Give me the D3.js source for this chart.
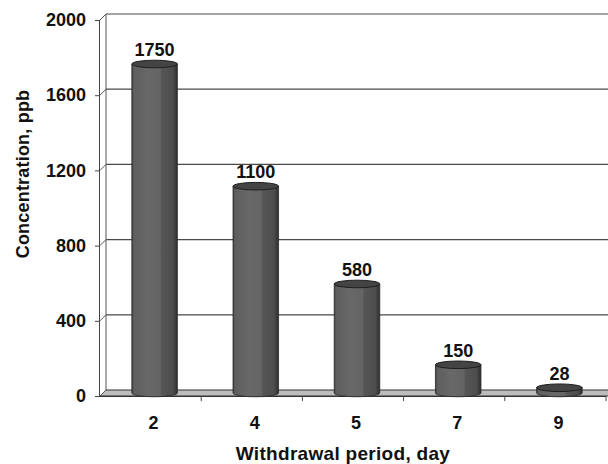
<!DOCTYPE html>
<html>
<head>
<meta charset="utf-8">
<script src="https://cdn.jsdelivr.net/npm/d3@7"></script>
<style>
  html, body { margin: 0; padding: 0; background: #fff; }
  svg { display: block; }
  text { font-family: "Liberation Sans", Arial, sans-serif; font-weight: bold; fill: #111; }
</style>
</head>
<body>
<svg id="chart" width="608" height="464"></svg>
<script>
// Residue concentration by withdrawal period
const categories = ["2", "4", "5", "7", "9"];
const values = [1750, 1100, 580, 150, 28];
const yTicks = [0, 400, 800, 1200, 1600, 2000];

(function () {
const svg = d3.select("#chart");
const W = 608;

// Front plane of the 3-D box and its depth offset
const pLeft = 100, pRight = 606, pBottom = 396, pTop = 20;
const dx = 6, dy = -6;

const x = d3.scaleBand().domain(categories).range([pLeft, pRight]).padding(0);
const y = d3.scaleLinear().domain([0, 2000]).range([pBottom, pTop]);

// Gradient for cylinder bodies
const defs = svg.append("defs");
const grad = defs.append("linearGradient").attr("id", "cyl").attr("x1", "0").attr("x2", "1").attr("y1", "0").attr("y2", "0");
[[0, "#3a3a3a"], [0.04, "#5e5e5e"], [0.35, "#686868"], [0.62, "#646464"], [0.66, "#555555"], [0.9, "#4d4d4d"], [1, "#2e2e2e"]]
  .forEach(([o, c]) => grad.append("stop").attr("offset", o).attr("stop-color", c));

// Back wall gridlines
svg.append("g").selectAll("line").data(yTicks.filter(d => d > 0)).join("line")
  .attr("x1", pLeft + dx).attr("x2", W)
  .attr("y1", d => y(d) + dy).attr("y2", d => y(d) + dy)
  .attr("stroke", "#4a4a4a").attr("stroke-width", 1.2);

// Back wall left edge
svg.append("line")
  .attr("x1", pLeft + dx).attr("x2", pLeft + dx)
  .attr("y1", y(2000) + dy).attr("y2", y(0) + dy)
  .attr("stroke", "#555").attr("stroke-width", 1);

// Floor
svg.append("path")
  .attr("d", `M${pLeft},${y(0)} L${pLeft + dx},${y(0) + dy} L${W + 2},${y(0) + dy} L${W + 2},${y(0)} Z`)
  .attr("fill", "#bdbdbd").attr("stroke", "#333").attr("stroke-width", 1);

// Diagonal connectors from the front axis to the back wall
svg.append("g").selectAll("line").data(yTicks).join("line")
  .attr("x1", pLeft).attr("x2", pLeft + dx)
  .attr("y1", d => y(d)).attr("y2", d => y(d) + dy)
  .attr("stroke", "#555").attr("stroke-width", 1);

// Y axis
const yAxis = d3.axisLeft(y).tickValues(yTicks).tickFormat(d3.format("d")).tickSize(5).tickPadding(9);
const gy = svg.append("g").attr("transform", `translate(${pLeft},0)`).call(yAxis);
gy.select(".domain").attr("stroke", "#444").attr("d", `M-0.5,${pTop}V${pBottom}`);
gy.selectAll(".tick line").attr("stroke", "#444");
gy.selectAll(".tick text").style("font-size", "18px").attr("fill", "#111");

// X axis
const xAxis = d3.axisBottom(x).tickSize(0).tickPadding(20);
const gx = svg.append("g").attr("transform", `translate(0,${pBottom})`).call(xAxis);
gx.select(".domain").attr("stroke", "#333").attr("d", `M${pLeft},0.5H${pRight}`);
gx.selectAll(".tick text").attr("dx", 3).style("font-size", "18px").attr("fill", "#111");
// Category separators
const seps = categories.slice(1).map(c => x(c)).concat([pRight]);
svg.append("g").selectAll("line").data(seps).join("line")
  .attr("x1", d => d).attr("x2", d => d)
  .attr("y1", pBottom).attr("y2", pBottom + 5)
  .attr("stroke", "#444");

// Cylinders
const bw = x.bandwidth() * 0.45;
const ry = 3.8;
const cyl = svg.append("g").selectAll("g").data(categories.map((c, i) => ({ c, v: values[i] }))).join("g");
const cx = d => x(d.c) + x.bandwidth() / 2 + dx / 2 + 1;
const base = y(0) + dy / 2;
const topY = d => y(d.v) + dy / 2;

cyl.append("path")
  .attr("d", d => {
    const l = cx(d) - bw / 2, r = cx(d) + bw / 2;
    return `M${l},${topY(d)} L${l},${base} A${bw / 2},${ry} 0 0 0 ${r},${base} L${r},${topY(d)} Z`;
  })
  .attr("fill", "url(#cyl)").attr("stroke", "#2a2a2a").attr("stroke-width", 0.8);

cyl.append("ellipse")
  .attr("cx", cx).attr("cy", topY)
  .attr("rx", bw / 2).attr("ry", ry)
  .attr("fill", "#444").attr("stroke", "#1e1e1e").attr("stroke-width", 1);

// Value labels
cyl.append("text")
  .attr("x", cx).attr("y", d => topY(d) - ry - 4)
  .attr("text-anchor", "middle")
  .style("font-size", "18px")
  .text(d => d.v);

// Axis titles
svg.append("text")
  .attr("transform", "translate(29,174) rotate(-90)")
  .attr("text-anchor", "middle")
  .style("font-size", "18px")
  .style("letter-spacing", "0.2px")
  .text("Concentration, ppb");

svg.append("text")
  .attr("x", 343).attr("y", 460)
  .attr("text-anchor", "middle")
  .style("font-size", "19px")
  .style("letter-spacing", "0.3px")
  .text("Withdrawal period, day");
})();
</script>
</body>
</html>
